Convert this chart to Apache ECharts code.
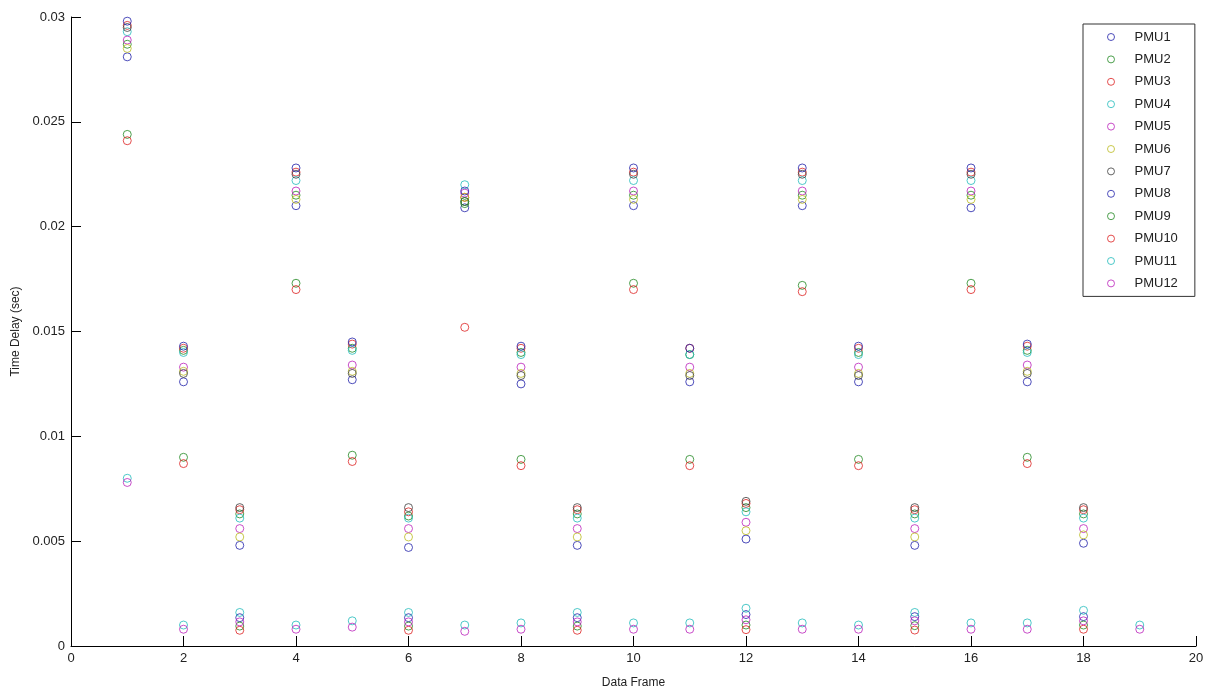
<!DOCTYPE html>
<html>
<head>
<meta charset="utf-8">
<script src="https://cdn.jsdelivr.net/npm/echarts@6/dist/echarts.min.js"></script>
<style>
html,body{margin:0;padding:0;background:#fff;}
#c{width:1211px;height:694px;}
</style>
</head>
<body>
<div id="c"></div>
<script>
const frames = [1,2,3,4,5,6,7,8,9,10,11,12,13,14,15,16,17,18,19];
const pmuNames = ['PMU1','PMU2','PMU3','PMU4','PMU5','PMU6','PMU7','PMU8','PMU9','PMU10','PMU11','PMU12'];
const pmuColors = ['#2222AA','#228822','#DD2222','#22BBBB','#BB22BB','#BBBB22','#404040','#2222AA','#228822','#DD2222','#22BBBB','#BB22BB'];

const PMU1  = [0.0281,0.0126,0.0048,0.0210,0.0127,0.0047,0.0209,0.0125,0.0048,0.0210,0.0126,0.0051,0.0210,0.0126,0.0048,0.0209,0.0126,0.0049,null];
const PMU2  = [0.0287,0.0141,0.0063,0.0215,0.0142,0.0062,0.0211,0.0140,0.0063,0.0215,0.0139,0.0066,0.0215,0.0140,0.0063,0.0215,0.0141,0.0063,null];
const PMU3  = [0.0296,0.0142,0.0065,0.0226,0.0144,0.0064,0.0214,0.0142,0.0065,0.0226,0.0142,0.0068,0.0226,0.0142,0.0065,0.0226,0.0143,0.0065,null];
const PMU4  = [0.0293,0.0140,0.0061,0.0222,0.0141,0.0061,0.0220,0.0139,0.0061,0.0222,0.0139,0.0064,0.0222,0.0139,0.0061,0.0222,0.0140,0.0061,null];
const PMU5  = [0.0289,0.0133,0.0056,0.0217,0.0134,0.0056,0.0216,0.0133,0.0056,0.0217,0.0133,0.0059,0.0217,0.0133,0.0056,0.0217,0.0134,0.0056,null];
const PMU6  = [0.0285,0.0131,0.0052,0.0213,0.0131,0.0052,0.0214,0.0130,0.0052,0.0213,0.0130,0.0055,0.0213,0.0130,0.0052,0.0213,0.0131,0.0053,null];
const PMU7  = [0.0295,0.0130,0.0066,0.0225,0.0130,0.0066,0.0212,0.0129,0.0066,0.0225,0.0129,0.0069,0.0225,0.0129,0.0066,0.0225,0.0130,0.0066,null];
const PMU8  = [0.0298,0.0143,0.00135,0.0228,0.0145,0.00135,0.0217,0.0143,0.00135,0.0228,0.0142,0.0015,0.0228,0.0143,0.0014,0.0228,0.0144,0.0014,null];
const PMU9  = [0.0244,0.0090,0.00095,0.0173,0.0091,0.00095,0.0212,0.0089,0.00095,0.0173,0.0089,0.0010,0.0172,0.0089,0.00097,0.0173,0.0090,0.0010,null];
const PMU10 = [0.0241,0.0087,0.00075,0.0170,0.0088,0.00075,0.0152,0.0086,0.00075,0.0170,0.0086,0.00078,0.0169,0.0086,0.00076,0.0170,0.0087,0.0008,null];
const PMU11 = [0.0080,0.0010,0.0016,0.0010,0.0012,0.0016,0.0010,0.0011,0.0016,0.0011,0.0011,0.0018,0.0011,0.0010,0.0016,0.0011,0.0011,0.0017,0.0010];
const PMU12 = [0.0078,0.0008,0.00115,0.0008,0.0009,0.00115,0.0007,0.0008,0.00115,0.0008,0.0008,0.00125,0.0008,0.0008,0.0012,0.0008,0.0008,0.0012,0.0008];

const pmuValues = [PMU1,PMU2,PMU3,PMU4,PMU5,PMU6,PMU7,PMU8,PMU9,PMU10,PMU11,PMU12];

const FONT = '"Liberation Sans", Arial, sans-serif';

const series = pmuNames.map((name, i) => ({
  name: name,
  type: 'scatter',
  symbol: 'circle',
  symbolSize: 8,
  itemStyle: { color: 'rgba(0,0,0,0)', borderColor: pmuColors[i], borderWidth: 1 },
  emphasis: { disabled: true },
  data: frames.map((f, k) => pmuValues[i][k] == null ? null : [f, pmuValues[i][k]]).filter(d => d)
}));

const chart = echarts.init(document.getElementById('c'), null, { renderer: 'canvas' });
chart.setOption({
  backgroundColor: '#ffffff',
  animation: false,
  grid: { left: 71, right: 15, top: 17, bottom: 47, containLabel: false },
  xAxis: {
    type: 'value', min: 0, max: 20, interval: 2,
    name: 'Data Frame', nameLocation: 'middle', nameGap: 31,
    nameTextStyle: { fontFamily: FONT, fontSize: 12, color: '#222' },
    axisLine: { show: true, lineStyle: { color: '#000', width: 1 } },
    axisTick: { show: true, inside: true, length: 10, lineStyle: { color: '#000' } },
    axisLabel: { margin: 6, fontFamily: FONT, fontSize: 13, color: '#222' },
    splitLine: { show: false }
  },
  yAxis: {
    type: 'value', min: 0, max: 0.03, interval: 0.005,
    name: 'Time Delay (sec)', nameLocation: 'middle', nameGap: 47, nameRotate: 90,
    nameTextStyle: { fontFamily: FONT, fontSize: 12, color: '#222' },
    axisLine: { show: true, lineStyle: { color: '#000', width: 1 } },
    axisTick: { show: true, inside: true, length: 10, lineStyle: { color: '#000' } },
    axisLabel: { margin: 6, fontFamily: FONT, fontSize: 13, color: '#222' },
    splitLine: { show: false }
  },
  legend: {
    orient: 'vertical',
    left: 1083, top: 24,
    padding: [6, 17, 6, 24],
    itemWidth: 37, itemHeight: 7, itemGap: 8.4,
    backgroundColor: '#fff',
    borderColor: '#333', borderWidth: 1,
    textStyle: { fontFamily: FONT, fontSize: 13, color: '#222', lineHeight: 14 },
    selectedMode: false,
    data: pmuNames.map((n, i) => ({
      name: n, icon: 'circle',
      itemStyle: { color: 'rgba(0,0,0,0)', borderColor: pmuColors[i], borderWidth: 1 }
    }))
  },
  series: series
});
</script>
</body>
</html>
